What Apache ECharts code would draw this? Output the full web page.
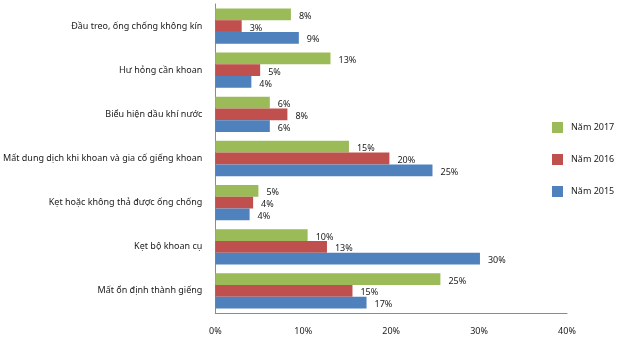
<!DOCTYPE html>
<html><head><meta charset="utf-8">
<script src="https://cdn.jsdelivr.net/npm/echarts@6/dist/echarts.min.js"></script>
<style>html,body{margin:0;padding:0;background:#fff}#c{width:621px;height:341px}</style>
</head><body><div id="c"></div>
<script>
const categories = [
  "Đầu treo, ống chống không kín",
  "Hư hỏng cần khoan",
  "Biểu hiện dầu khí nước",
  "Mất dung dịch khi khoan và gia cố giếng khoan",
  "Kẹt hoặc không thả được ống chống",
  "Kẹt bộ khoan cụ",
  "Mất ổn định thành giếng"
];
const seriesNames = ["Năm 2017", "Năm 2016", "Năm 2015"];
const values2017 = [8.6, 13.1, 6.2, 15.2, 4.9, 10.5, 25.6];
const values2016 = [3.0, 5.1, 8.2, 19.8, 4.3, 12.7, 15.6];
const values2015 = [9.5, 4.1, 6.2, 24.7, 3.9, 30.1, 17.2];
const labels2017 = ["8%", "13%", "6%", "15%", "5%", "10%", "25%"];
const labels2016 = ["3%", "5%", "8%", "20%", "4%", "13%", "15%"];
const labels2015 = ["9%", "4%", "6%", "25%", "4%", "30%", "17%"];
const xTicks = [0, 10, 20, 30, 40];
const colors = ["#9BBB59", "#C0504D", "#4F81BD"];

const FONT = "'Noto Sans', 'Open Sans', sans-serif";
const chart = echarts.init(document.getElementById('c'));
function mk(name, vals, labs, color) {
  return {
    name: name, type: 'bar', data: vals,
    barGap: '0%', barCategoryGap: '20%',
    itemStyle: { color: color },
    label: {
      show: true, position: 'right', distance: 8, offset: [0, 2],
      fontFamily: FONT, fontSize: 9, color: '#1a1a1a',
      formatter: p => labs[p.dataIndex]
    },
    animation: false
  };
}
chart.setOption({
  animation: false,
  textStyle: { fontFamily: FONT },
  grid: { left: 214, right: 54, top: 4, bottom: 28, containLabel: false },
  legend: {
    orient: 'vertical', left: 547, top: 117,
    data: seriesNames,
    itemWidth: 11, itemHeight: 11, itemGap: 21,
    icon: 'rect',
    textStyle: { fontFamily: FONT, fontSize: 9, color: '#1a1a1a', padding: [0,0,0,3] }
  },
  xAxis: {
    type: 'value', min: xTicks[0], max: xTicks[xTicks.length - 1], interval: 10,
    axisLine: { show: true, lineStyle: { color: '#8c8c8c', width: 1 } },
    axisTick: { show: false },
    splitLine: { show: false },
    axisLabel: { formatter: v => v + '%', fontSize: 9, color: '#1a1a1a', margin: 14, fontFamily: FONT }
  },
  yAxis: {
    type: 'category', data: categories, inverse: true,
    axisLine: { show: true, lineStyle: { color: '#8c8c8c', width: 1 } },
    axisTick: { show: false },
    axisLabel: { fontSize: 9, color: '#1a1a1a', margin: 13, fontFamily: FONT }
  },
  series: [
    mk(seriesNames[0], values2017, labels2017, colors[0]),
    mk(seriesNames[1], values2016, labels2016, colors[1]),
    mk(seriesNames[2], values2015, labels2015, colors[2])
  ]
});
</script></body></html>
